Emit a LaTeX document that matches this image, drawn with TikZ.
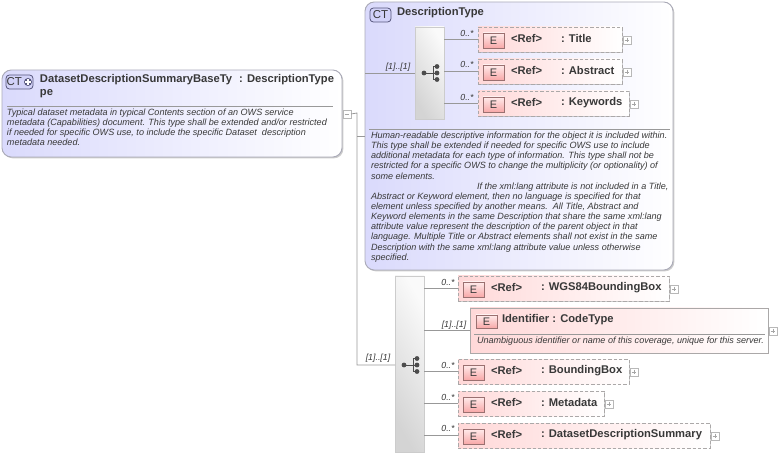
\documentclass[tikz,border=0pt]{standalone}
\usepackage{fontspec}
\setmainfont{Liberation Sans}
\usetikzlibrary{shadows}
\definecolor{ctedge}{HTML}{ABABB8}
\definecolor{ctfill}{HTML}{DADAFC}
\definecolor{ctbadge}{HTML}{D2D2F8}
\definecolor{ctline}{HTML}{58587E}
\definecolor{elfill}{HTML}{FFD8D8}
\definecolor{eledge}{HTML}{ABA8A8}
\definecolor{elbadge}{HTML}{F8A8A8}
\definecolor{elline}{HTML}{9A7070}
\definecolor{conn}{HTML}{989898}
\definecolor{inktext}{HTML}{383838}
\tikzset{
	every node/.style={inner sep=0pt, outer sep=0pt, text=inktext},
	softshadow/.style={drop shadow={shadow xshift=1pt, shadow yshift=-1pt, fill=black, opacity=.2}},
	ctbox/.style={draw=ctedge, line width=.7pt, rounded corners=7pt, anchor=north west, left color=ctfill, right color=white, softshadow},
	ctmark/.style={draw=ctline, line width=.6pt, rounded corners=2.5pt, anchor=north west, fill=ctbadge, font=\fontsize{8.6}{9}\selectfont},
	refbox/.style={draw=eledge, dash pattern=on 2.4pt off 1.6pt, line width=.7pt, anchor=north west, left color=elfill, right color=white, softshadow},
	idbox/.style={draw=eledge, line width=.7pt, anchor=north west, left color=elfill, right color=white, softshadow},
	emark/.style={draw=elline, line width=.6pt, anchor=north west, top color=white!50!elfill, bottom color=elbadge, font=\fontsize{8.2}{9}\selectfont},
	seqbox/.style={draw=black!20, line width=.6pt, anchor=north west, top color=black!2, bottom color=black!17, shading angle=-60, softshadow},
	plusbox/.style={draw=black!28, line width=.5pt, fill=white, anchor=north west, minimum width=6pt, minimum height=6pt,
		path picture={\draw[black!35, line width=.5pt] ([xshift=1.2pt]path picture bounding box.west) -- ([xshift=-1.2pt]path picture bounding box.east)
			([yshift=-1.2pt]path picture bounding box.north) -- ([yshift=1.2pt]path picture bounding box.south);}},
	minusbox/.style={draw=black!28, line width=.5pt, fill=white, anchor=north west, minimum width=6pt, minimum height=6pt,
		path picture={\draw[black!35, line width=.5pt] ([xshift=1.2pt]path picture bounding box.west) -- ([xshift=-1.2pt]path picture bounding box.east);}},
	title/.style={anchor=west, font=\fontsize{8.4}{10}\bfseries\selectfont},
	note/.style={anchor=north west, align=left, font=\fontsize{6.8}{7.6}\itshape\selectfont},
	mult/.style={font=\fontsize{6.6}{8}\itshape\selectfont},
	conn/.style={draw=conn, line width=.6pt}
}
\begin{document}
\begin{tikzpicture}[x=.75pt, y=-.75pt]
	\def \m {.75pt}
	\useasboundingbox (0,0) rectangle (779,456);

	% outer types
	\node[ctbox, minimum width=340*\m, minimum height=87*\m] (base) at (2,70) {};
	\node[ctbox, minimum width=308*\m, minimum height=268*\m] (descr) at (365,2) {};

	\node[ctmark, minimum width=27*\m, minimum height=14*\m] (baseCT) at (6,75) {\hspace*{-8pt}CT};
	\fill[ctline] (28,82) circle (4);
	\draw[white, line width=.8pt] (25,82) -- (31,82) (28,79) -- (28,85);
	\node[title] (baseName) at (40,80) {DatasetDescriptionSummaryBaseTy\hspace{3pt} : DescriptionType};
	\node[title] (basePe) at (40,94) {pe};
	\draw[black!40, line width=.6pt] (7,106) -- (333,106);
	\node[note] (baseNote) at (7,109) {Typical dataset metadata in typical Contents section of an OWS service\\metadata (Capabilities) document. This type shall be extended and/or restricted\\if needed for specific OWS use, to include the specific Dataset\ \ description\\metadata needed.};

	\node[ctmark, minimum width=21*\m, minimum height=14*\m] (descrCT) at (370,8) {CT};
	\node[title] (descrName) at (397,13) {DescriptionType};
	\draw[black!40, line width=.6pt] (369,129) -- (670,129);
	\node[note] (descrNote) at (371,132) {Human-readable descriptive information for the object it is included within.\\This type shall be extended if needed for specific OWS use to include\\additional metadata for each type of information. This type shall not be\\restricted for a specific OWS to change the multiplicity (or optionality) of\\some elements.\\\hspace*{79.5pt}If the xml:lang attribute is not included in a Title,\\Abstract or Keyword element, then no language is specified for that\\element unless specified by another means.\ \ All Title, Abstract and\\Keyword elements in the same Description that share the same xml:lang\\attribute value represent the description of the parent object in that\\language. Multiple Title or Abstract elements shall not exist in the same\\Description with the same xml:lang attribute value unless otherwise\\specified.};

	% sequence compartments
	\node[seqbox, minimum width=29*\m, minimum height=92*\m] (seqA) at (415,27) {};
	\node[seqbox, minimum width=29*\m, minimum height=176*\m] (seqB) at (395,276) {};
	\foreach \nm/\x/\y in {symA/431/73,symB/411/365}{
		\coordinate (\nm) at (\x,\y);
		\draw[black!70, line width=.7pt] (\x-7,\y) -- (\x+2,\y) (\x+2,\y-6.5) -- (\x+2,\y+6.5) (\x+2,\y-6.5) -- (\x+6,\y-6.5) (\x+2,\y) -- (\x+6,\y) (\x+2,\y+6.5) -- (\x+6,\y+6.5);
		\fill[black!70] (\x-7,\y) circle (2.4) (\x+6,\y-6.5) circle (2.4) (\x+6,\y) circle (2.4) (\x+6,\y+6.5) circle (2.4);
	}

	% referenced elements
	\foreach \nm/\x/\y/\w/\lab in {title/478/27/144/Title,abstract/478/59/144/Abstract,keywords/478/91/151/Keywords,wgs/458/276/211/WGS84BoundingBox,bbox/458/359/171/BoundingBox,metadata/458/391/146/Metadata,summary/458/423/252/DatasetDescriptionSummary}{
		\node[refbox, minimum width=\w*\m, minimum height=25*\m] (\nm) at (\x,\y) {};
		\node[emark, minimum width=21*\m, minimum height=15*\m] (\nm E) at (\x+5,\y+6) {E};
		\node[title] (\nm Ref) at (\x+33,\y+11.5) {<Ref>};
		\node[title] (\nm Name) at (\x+83,\y+11.5) {: \lab};
		\node[plusbox] (\nm Plus) at (\x+\w+1,\y+9) {};
	}

	% identifier element
	\node[idbox, minimum width=298*\m, minimum height=45*\m] (ident) at (470,308) {};
	\node[emark, minimum width=21*\m, minimum height=13*\m] (identE) at (476,315) {E};
	\node[title] (identName) at (502,319.5) {Identifier : CodeType};
	\draw[black!40, line width=.6pt] (474,334) -- (765,334);
	\node[note] (identNote) at (477,337) {Unambiguous identifier or name of this coverage, unique for this server.};
	\node[plusbox] (identPlus) at (769,327) {};

	% connectors
	\node[minusbox] (minus) at (343,110) {};
	\coordinate (bend) at (357,113);
	\coordinate (descrIn) at (365,136);
	\coordinate (seqAIn) at (365,73);
	\draw[conn] (minus.east) -- (bend) -- (bend |- symB) -- (seqB.west |- symB);
	\draw[conn] (bend |- descrIn) -- (descrIn);
	\draw[conn] (seqAIn) -- (seqA.west |- seqAIn);
	\foreach \a/\b in {seqA/title,seqA/abstract,seqA/keywords,seqB/wgs,seqB/ident,seqB/bbox,seqB/metadata,seqB/summary}{
		\draw[conn] (\a.east |- \b.west) -- (\b.west);
	}

	% multiplicities
	\node[mult] (mOuter) at (378,358) {[1]..[1]};
	\node[mult] (mInner) at (398,67) {[1]..[1]};
	\node[mult] (mIdent) at (454,325) {[1]..[1]};
	\foreach \nm/\x/\y in {mTitle/467/33,mAbstract/467/64,mKeywords/467/97,mWgs/448/282,mBbox/448/365,mMeta/448/397,mSum/448/428}{
		\node[mult] (\nm) at (\x,\y) {0..*};
	}
\end{tikzpicture}
\end{document}
